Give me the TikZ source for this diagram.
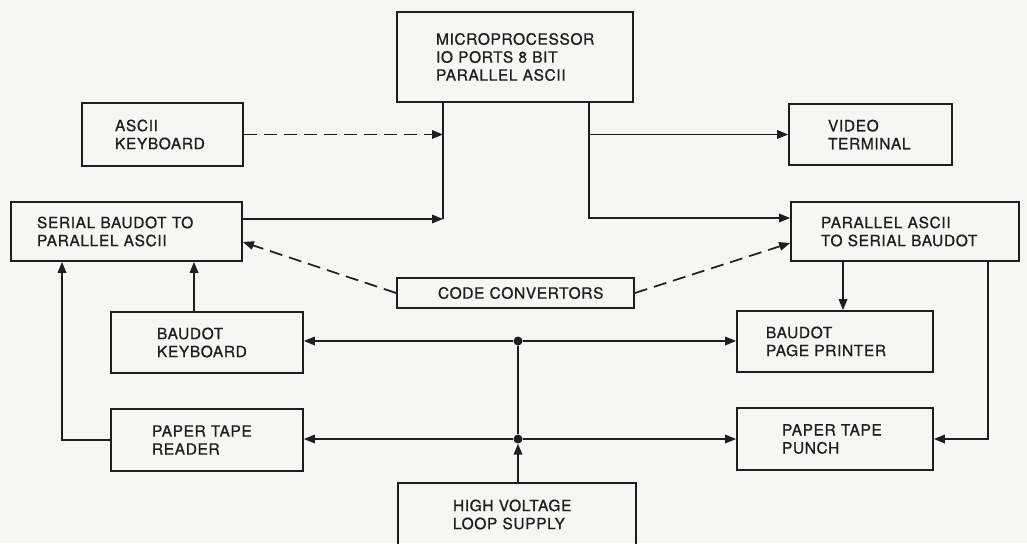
\documentclass[tikz,border=0pt]{standalone}
\usepackage{fontspec}
\setmainfont{TeX Gyre Heros}
\newfontfamily\labfont[LetterSpace=4,FakeBold=0.8]{TeX Gyre Heros}
\usetikzlibrary{arrows.meta}
\definecolor{bgc}{RGB}{246,246,244}
\definecolor{ink}{RGB}{30,30,30}
\tikzset{
  box/.style={draw=ink, line width=1.7pt, inner ysep=0pt, align=left, text=ink,
    font=\labfont\fontsize{15.5}{18}\selectfont},
  arr/.style={draw=ink, line width=1.7pt, -{Triangle[length=11pt,width=8.5pt]}},
  plain/.style={draw=ink, line width=1.7pt},
  dasharr/.style={arr, dash pattern=on 13pt off 7pt},
  dot/.style={circle, fill=ink, inner sep=0pt, minimum size=9pt},
}
\begin{document}
\begin{tikzpicture}[x=1pt,y=-1pt]
\fill[bgc] (0,0) rectangle (1027,543);
\useasboundingbox (0,0) rectangle (1027,543);
\clip (0,0) rectangle (1027,543);
% boxes
\node[box, text width=158pt, inner xsep=39pt, minimum height=90pt] (micro) at (515,57) {MICROPROCESSOR\\IO PORTS 8 BIT\\PARALLEL ASCII};
\node[box, text width=95pt, inner xsep=33pt, minimum height=63pt] (akb) at (162.5,134.5) {ASCII\\KEYBOARD};
\node[box, text width=85pt, inner xsep=39pt, minimum height=61pt] (vt) at (870.5,134.5) {VIDEO\\TERMINAL};
\node[box, text width=179pt, inner xsep=26pt, minimum height=59pt] (ser) at (126.5,231.5) {SERIAL BAUDOT TO\\PARALLEL ASCII};
\node[box, text width=168pt, inner xsep=30pt, minimum height=59pt] (pa) at (905,231.5) {PARALLEL ASCII\\TO SERIAL BAUDOT};
\node[box, text width=155pt, inner xsep=41pt, minimum height=30pt] (cc) at (515.5,293) {\mbox{CODE CONVERTORS}};
\node[box, text width=100pt, inner xsep=46pt, minimum height=61pt] (bk) at (207,342.5) {BAUDOT\\KEYBOARD};
\node[box, text width=138pt, inner xsep=29pt, minimum height=61pt] (bpp) at (835,341.5) {BAUDOT\\PAGE PRINTER};
\node[box, text width=110pt, inner xsep=41pt, minimum height=62pt] (ptr) at (207,440) {PAPER TAPE\\READER};
\node[box, text width=106pt, inner xsep=45pt, minimum height=62pt] (ptp) at (835,439) {PAPER TAPE\\PUNCH};
\node[box, text width=128pt, inner xsep=55pt, minimum height=63pt] (hv) at (517,514.5) {HIGH VOLTAGE\\LOOP SUPPLY};
% junction coordinates
\coordinate (jA) at (443,219);
\coordinate (jB) at (589,218);
\coordinate (xK) at (194,0);
\coordinate (xR) at (62,0);
\coordinate (xP) at (843,0);
\coordinate (xQ) at (988,0);
\node[dot] (d1) at (518,341) {};
\node[dot] (d2) at (518,439) {};
% microprocessor inputs
\draw[plain] (micro.south -| jA) -- (jA);
\draw[arr] (ser.east |- jA) -- (jA);
\draw[dasharr] (akb.east) -- (akb.east -| jA);
% microprocessor outputs
\draw[arr] (micro.south -| jB) -- (jB) -- (pa.west |- jB);
\draw[arr] (vt.west -| jB) -- (vt.west);
% code convertors
\draw[dasharr] (cc.west) -- ([yshift=-10.5pt]ser.east);
\draw[dasharr] (cc.east) -- ([yshift=-11.5pt]pa.west);
% into serial baudot
\draw[arr] (bk.north -| xK) -- (ser.south -| xK);
\draw[arr] (ptr.west) -- (ptr.west -| xR) -- (ser.south -| xR);
% loop
\draw[arr] (d1) -- (bk.east |- d1);
\draw[arr] (d1) -- (bpp.west |- d1);
\draw[plain] (d1) -- (d2);
\draw[arr] (d2) -- (ptr.east |- d2);
\draw[arr] (d2) -- (ptp.west |- d2);
\draw[arr] (hv.north -| d2) -- (d2);
% outputs of parallel ascii
\draw[arr] (pa.south -| xP) -- (bpp.north -| xP);
\draw[arr] (pa.south -| xQ) -- (xQ |- ptp.east) -- (ptp.east);
\end{tikzpicture}
\end{document}
